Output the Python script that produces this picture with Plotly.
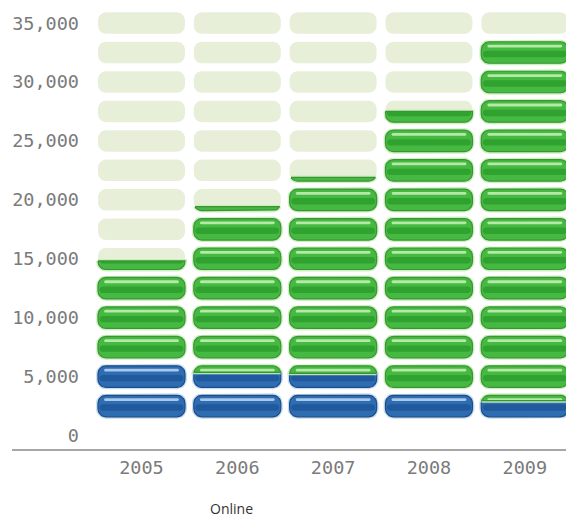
import math
import plotly.graph_objects as go

# ---------------- data ----------------
years = ["2005", "2006", "2007", "2008", "2009"]
blue_values = [5000, 4250, 4125, 2500, 1875]
green_values = [8500, 13700, 16300, 23750, 30625]
y_tick_values = [0, 5000, 10000, 15000, 20000, 25000, 30000, 35000]
y_tick_labels = ["0", "5,000", "10,000", "15,000", "20,000", "25,000", "30,000", "35,000"]
slot_size = 2500
slot_count = 14
x_title = "Online"

# ---------------- layout geometry ----------------
W, H = 566, 521
M_L, M_R, M_T, M_B = 93, 0, 0, 71
X_RANGE = [-0.506, 4.43]
Y_RANGE = [-1230, 36957]
plot_w = W - M_L - M_R
plot_h = H - M_T - M_B
PX_X = plot_w / (X_RANGE[1] - X_RANGE[0])
PX_Y = plot_h / (Y_RANGE[1] - Y_RANGE[0])

PILL_HW = 43.5   # px
PILL_HH = 10.75  # px
PILL_R = 8.0     # px

STYLES = {
    "blue": dict(body="#2f6db3", band="#215a9c", border="#1b4c86",
                 hi="#a9c8ea", halo="rgba(190,215,240,0.9)"),
    "green": dict(body="#46b942", band="#2fa22f", border="#3a9434",
                  hi="#b4eaa6", halo="rgba(200,238,185,0.9)"),
}
BG_PILL = "#e8efd9"


def rrect(xc, yc, hw_px, hh_px, r_px, n=8):
    hw = hw_px / PX_X
    hh = hh_px / PX_Y
    r_px = min(r_px, hh_px, hw_px)
    rx = r_px / PX_X
    ry = r_px / PX_Y
    pts = []
    corners = [(xc + hw - rx, yc + hh - ry, 0), (xc - hw + rx, yc + hh - ry, 90),
               (xc - hw + rx, yc - hh + ry, 180), (xc + hw - rx, yc - hh + ry, 270)]
    for cx, cy, a0 in corners:
        for i in range(n + 1):
            a = math.radians(a0 + 90 * i / n)
            pts.append((cx + rx * math.cos(a), cy + ry * math.sin(a)))
    return pts


def clip(pts, c, below=True):
    out = []
    m = len(pts)
    for i in range(m):
        p = pts[i]
        q = pts[(i + 1) % m]
        pin = p[1] <= c + 1e-9 if below else p[1] >= c - 1e-9
        qin = q[1] <= c + 1e-9 if below else q[1] >= c - 1e-9
        if pin:
            out.append(p)
        if pin != qin:
            t = (c - p[1]) / (q[1] - p[1])
            out.append((p[0] + t * (q[0] - p[0]), c))
    return out


def add_poly(acc, pts):
    if len(pts) < 3:
        return
    xs, ys = acc
    for p in pts:
        xs.append(p[0])
        ys.append(p[1])
    xs.append(pts[0][0])
    ys.append(pts[0][1])
    xs.append(None)
    ys.append(None)


fig = go.Figure()

# background pills
bg = ([], [])
for xi in range(len(years)):
    for k in range(1, slot_count + 1):
        add_poly(bg, rrect(xi, k * slot_size, PILL_HW, PILL_HH, PILL_R))
fig.add_trace(go.Scatter(x=bg[0], y=bg[1], mode="lines", fill="toself",
                         fillcolor=BG_PILL, line=dict(width=0, color=BG_PILL),
                         hoverinfo="skip", showlegend=False))

hh_v = PILL_HH / PX_Y
series = [("blue", blue_values), ("green", green_values)]
cum = [0] * len(years)
for name, vals in series:
    acc = {key: ([], []) for key in ["halo", "body", "band", "hi", "border"]}
    for xi, v in enumerate(vals):
        lo, hi_v = cum[xi], cum[xi] + v
        cum[xi] = hi_v
        for k in range(1, slot_count + 1):
            s0, s1 = (k - 1) * slot_size, k * slot_size
            a, b = max(lo, s0), min(hi_v, s1)
            if b <= a:
                continue
            yc = k * slot_size
            ya = yc - hh_v + (a - s0) / slot_size * 2 * hh_v
            yb = yc - hh_v + (b - s0) / slot_size * 2 * hh_v

            def piece(poly):
                return clip(clip(poly, yb, True), ya, False)

            outline = piece(rrect(xi, yc, PILL_HW, PILL_HH, PILL_R))
            add_poly(acc["halo"], outline)
            add_poly(acc["body"], outline)
            add_poly(acc["band"], piece(rrect(xi, yc - 1.5 / PX_Y, PILL_HW - 1.5, 3.2, 3)))
            add_poly(acc["hi"], piece(rrect(xi, yc + (PILL_HH - 4.3) / PX_Y, PILL_HW - 6, 1.4, 1.4)))
            add_poly(acc["border"], outline)
    st = STYLES[name]
    fig.add_trace(go.Scatter(x=acc["halo"][0], y=acc["halo"][1], mode="lines",
                             line=dict(width=4, color=st["halo"]),
                             hoverinfo="skip", showlegend=False))
    fig.add_trace(go.Scatter(x=acc["body"][0], y=acc["body"][1], mode="lines", fill="toself",
                             fillcolor=st["body"], line=dict(width=0, color=st["body"]),
                             hoverinfo="skip", showlegend=False))
    fig.add_trace(go.Scatter(x=acc["band"][0], y=acc["band"][1], mode="lines", fill="toself",
                             fillcolor=st["band"], line=dict(width=0, color=st["band"]),
                             hoverinfo="skip", showlegend=False))
    fig.add_trace(go.Scatter(x=acc["hi"][0], y=acc["hi"][1], mode="lines", fill="toself",
                             fillcolor=st["hi"], line=dict(width=0, color=st["hi"]),
                             hoverinfo="skip", showlegend=False))
    fig.add_trace(go.Scatter(x=acc["border"][0], y=acc["border"][1], mode="lines",
                             line=dict(width=1.2, color=st["border"]),
                             hoverinfo="skip", showlegend=False))

tick_font = dict(family="DejaVu Sans Mono", size=18.5, color="#7a7a7a")

fig.update_layout(
    width=W, height=H,
    margin=dict(l=M_L, r=M_R, t=M_T, b=M_B, pad=0),
    paper_bgcolor="white", plot_bgcolor="white",
    showlegend=False,
    xaxis=dict(range=X_RANGE, tickmode="array", tickvals=list(range(len(years))),
               ticktext=years, showgrid=False, zeroline=False, showline=False,
               ticks="", tickfont=tick_font, ticklabelstandoff=4, fixedrange=True),
    yaxis=dict(range=Y_RANGE, tickmode="array", tickvals=y_tick_values,
               ticktext=y_tick_labels, showgrid=False, zeroline=False, showline=False,
               ticks="", tickfont=tick_font, ticklabelstandoff=13, fixedrange=True),
    shapes=[dict(type="line", xref="paper", yref="paper",
                 x0=(12 - M_L) / plot_w, x1=1.0, y0=0, y1=0,
                 line=dict(color="#8a8a8a", width=1.5))],
    annotations=[dict(text=x_title, xref="paper", yref="paper",
                      x=(231 - M_L) / plot_w, y=(M_B - (H - 508)) / -plot_h,
                      showarrow=False, xanchor="center", yanchor="middle",
                      font=dict(family="Open Sans", size=14, color="#333333"))],
)

fig.write_html("out.html", config={"displayModeBar": False},
               post_script="document.body.style.margin='0px';document.body.style.overflow='hidden';")
